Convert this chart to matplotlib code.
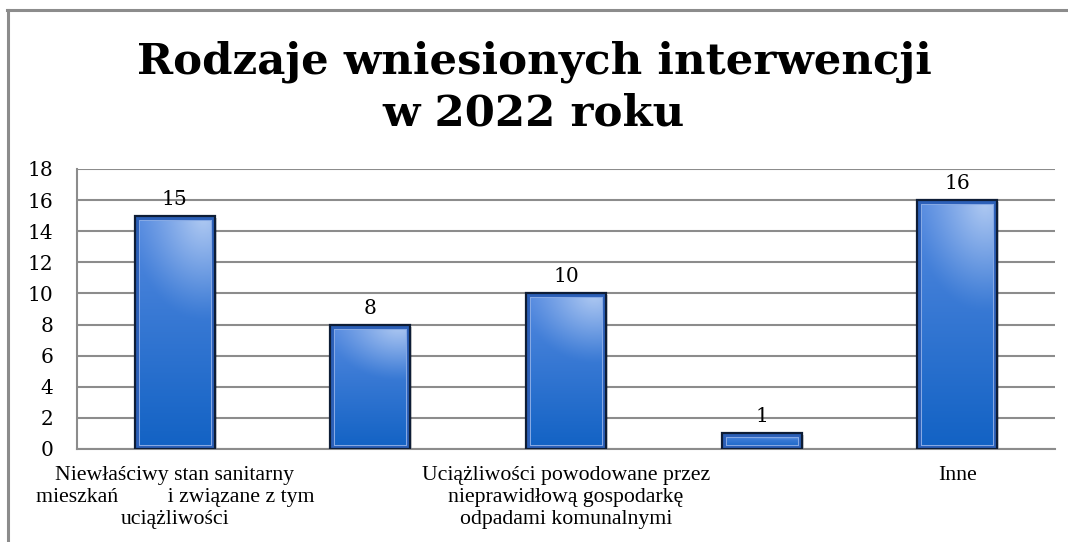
import numpy as np
import matplotlib
matplotlib.use("Agg")
import matplotlib.pyplot as plt
from matplotlib.patches import Rectangle
from matplotlib.lines import Line2D
import matplotlib.transforms as mtransforms

# ---- data ----
categories = [
    "Niewłaściwy stan sanitarny\nmieszkań         i związane z tym\nuciążliwości",
    "",
    "Uciążliwości powodowane przez\nnieprawidłową gospodarkę\nodpadami komunalnymi",
    "",
    "Inne",
]
values = [15, 8, 10, 1, 16]
yticks = [0, 2, 4, 6, 8, 10, 12, 14, 16, 18]
title_lines = ["Rodzaje wniesionych interwencji", "w 2022 roku"]

W, H = 1068, 542
fig = plt.figure(figsize=(W / 100, H / 100), dpi=100)
fig.patch.set_facecolor("white")

# outer chart frame (top and left visible)
fig.add_artist(Line2D([7 / W, 1.0], [1 - 10 / H, 1 - 10 / H], color="#8c8c8c", lw=2.2))
fig.add_artist(Line2D([8 / W, 8 / W], [0, 1 - 10 / H], color="#8c8c8c", lw=2.2))

ax = fig.add_axes([77 / W, 1 - 449 / H, (1055 - 77) / W, (449 - 169) / H])
x = np.arange(len(values))
ax.set_yticks(yticks)
ax.yaxis.grid(True, color="#8c8c8c", lw=1.5, zorder=0)
ax.set_axisbelow(True)
for s in ["top", "right"]:
    ax.spines[s].set_visible(False)
for s in ["left", "bottom"]:
    ax.spines[s].set_color("#8c8c8c")
    ax.spines[s].set_linewidth(1.5)
ax.tick_params(axis="both", length=0)
ax.tick_params(axis="y", pad=17)
for lab in ax.get_yticklabels():
    lab.set_fontfamily("DejaVu Serif")
    lab.set_fontsize(14.5)

ax.set_xticks(x)
ax.set_xticklabels(categories, fontfamily="Liberation Serif", fontsize=15.7, linespacing=1.22)
ax.tick_params(axis="x", pad=12)

bars = ax.bar(x, values, width=0.41, facecolor="none", edgecolor="#0e1d36", lw=1.6, zorder=4)

# gradient fill
ny, nx = 120, 60
yy, xx = np.mgrid[0:1:ny * 1j, 0:1:nx * 1j]  # yy: 0 top -> 1 bottom
c_top = np.array([0x55, 0x8a, 0xe0]) / 255
c_bot = np.array([0x12, 0x62, 0xc4]) / 255
c_hi = np.array([0xb0, 0xca, 0xf2]) / 255
t = yy[..., None]
base = c_top * (1 - t) + c_bot * t
d = np.sqrt(((xx - 0.85) / 0.9) ** 2 + ((yy - 0.0) / 0.45) ** 2)
w = np.clip(1 - d, 0, 1)[..., None] ** 1.2
img = base * (1 - w) + c_hi * w

shadow_shift = mtransforms.ScaledTranslation(2 / 100, -2 / 100, fig.dpi_scale_trans)
for r in bars:
    x0, y0, bw, bh = r.get_x(), r.get_y(), r.get_width(), r.get_height()
    im = ax.imshow(img, extent=[x0, x0 + bw, y0, y0 + bh], aspect="auto",
                   origin="upper", zorder=2, interpolation="bilinear")
    im.set_clip_path(r)
    # inner bevel bands
    for lw, col in [(6.5, "#86a9e4"), (5.0, "#2c60b8")]:
        rr = Rectangle((x0, y0), bw, bh, facecolor="none", edgecolor=col, lw=lw, zorder=3)
        ax.add_patch(rr)
        rr.set_clip_path(r)
    sh = Rectangle((x0, y0), bw, bh, facecolor="#000000", alpha=0.18, zorder=1,
                   transform=ax.transData + shadow_shift)
    ax.add_patch(sh)

ax.set_xlim(-0.5, len(values) - 0.5)
ax.set_ylim(0, 18)

for xi, v in zip(x, values):
    ax.annotate(str(v), (xi, v), xytext=(0, 5), textcoords="offset points",
                ha="center", va="bottom", fontfamily="DejaVu Serif", fontsize=14.5, zorder=5)

fig.text(0.5, 1 - 73 / H, title_lines[0], ha="center", va="baseline",
         fontfamily="DejaVu Serif", fontweight="bold", fontsize=31.3)
fig.text(0.5, 1 - 125 / H, title_lines[1], ha="center", va="baseline",
         fontfamily="DejaVu Serif", fontweight="bold", fontsize=31.3)

fig.savefig("out.png", dpi=100, facecolor="white")
